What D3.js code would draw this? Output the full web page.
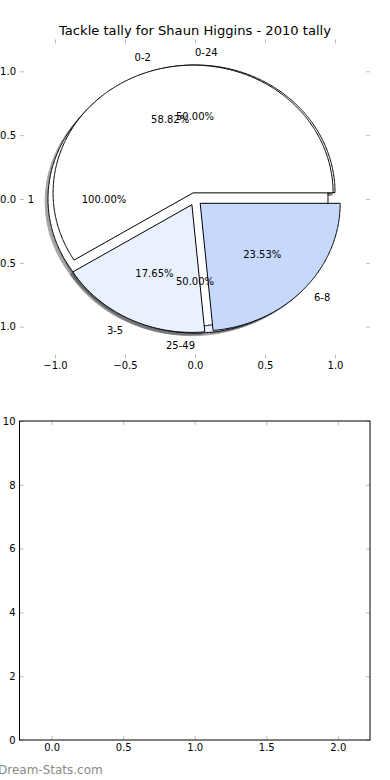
<!DOCTYPE html>
<html>
<head>
<meta charset="utf-8">
<script src="https://cdn.jsdelivr.net/npm/d3@7"></script>
<style>
  body { margin: 0; background: #fff; }
  svg { display: block; font-family: "DejaVu Sans", sans-serif; }
  .tick line { stroke: #bbb; }
</style>
</head>
<body>
<div id="container"></div>
<script>
// datos
const titulo = "Tackle tally for Shaun Higgins - 2010 tally"
const etiquetasA = ["0-2", "3-5", "6-8"]
const valoresA = [10, 3, 4]
const etiquetasB = ["0-24", "25-49"]
const valoresB = [1, 1]
const etiquetasC = ["1"]
const valoresC = [1]
const colores = ["#ffffff", "#eaf1fe", "#c6d9fd"]
const explode = 0.05
const ticksPie = [-1, -0.5, 0, 0.5, 1]
const ticksX = [0, 0.5, 1, 1.5, 2]
const ticksY = [0, 2, 4, 6, 8, 10]

ancho = 390
alto = 780

svg = d3.select("#container")
  .append("svg")
  .attr("width", ancho)
  .attr("height", alto)

// escalas del pie (limites +-1.25 como matplotlib)
px = d3.scaleLinear().domain([-1.25, 1.25]).range([20, 370])
py = d3.scaleLinear().domain([-1.25, 1.25]).range([358.6, 39.4])

svg.append("text")
  .attr("x", px(0)).attr("y", 30)
  .attr("text-anchor", "middle").attr("dominant-baseline", "central")
  .attr("font-size", 13.1)
  .text(titulo)

// ejes del pie, sin marco
gPieAxes = svg.append("g")
gPieAxes.append("g").attr("transform", `translate(0,${py(-1.25)})`)
  .call(d3.axisBottom(px).tickValues(ticksPie).tickSize(-4).tickPadding(3).tickFormat(d3.format(".1f")))
gPieAxes.append("g").attr("transform", `translate(0,${py(1.25)})`)
  .call(d3.axisTop(px).tickValues(ticksPie).tickSize(-4).tickFormat(""))
gPieAxes.append("g").attr("transform", `translate(${px(-1.25)},0)`)
  .call(d3.axisLeft(py).tickValues(ticksPie).tickSize(-4).tickPadding(4).tickFormat(d3.format(".1f")))
gPieAxes.append("g").attr("transform", `translate(${px(1.25)},0)`)
  .call(d3.axisRight(py).tickValues(ticksPie).tickSize(-4).tickFormat(""))
gPieAxes.selectAll(".domain").remove()
gPieAxes.selectAll("text").attr("font-size", 10).attr("fill", "#000").attr("font-family", "DejaVu Sans")

// construir cuñas (angulos al estilo matplotlib: 0 a las 3, antihorario)
function cunas(valores, etiquetas) {
  const arcs = d3.pie().sort(null).startAngle(0).endAngle(2 * Math.PI)(valores)
  const total = d3.sum(valores)
  return arcs.map((a, i) => {
    const mid = (a.startAngle + a.endAngle) / 2
    return {
      t1: a.startAngle, t2: a.endAngle, mid: mid,
      cx: explode * Math.cos(mid), cy: explode * Math.sin(mid),
      color: colores[i % colores.length],
      label: etiquetas[i],
      pct: (100 * valores[i] / total).toFixed(2) + "%"
    }
  })
}

pies = [cunas(valoresB, etiquetasB), cunas(valoresC, etiquetasC), cunas(valoresA, etiquetasA)]

linea = d3.line().x(d => px(d[0])).y(d => py(d[1]))
function pathCuna(w, dx, dy) {
  const n = Math.max(8, Math.ceil((w.t2 - w.t1) / 0.01))
  const pts = []
  const lleno = (w.t2 - w.t1) >= 2 * Math.PI - 1e-9
  if (!lleno) pts.push([w.cx + dx, w.cy + dy])
  for (let k = 0; k <= n; k++) {
    const t = w.t1 + (w.t2 - w.t1) * k / n
    pts.push([w.cx + dx + Math.cos(t), w.cy + dy + Math.sin(t)])
  }
  return linea(pts) + "Z"
}

// sombras primero (zorder menor)
gSombras = svg.append("g")
pies.forEach(p => {
  gSombras.selectAll(null).data(p).enter().append("path")
    .attr("d", w => pathCuna(w, -0.02, -0.02))
    .attr("fill", w => { const c = d3.rgb(w.color); return d3.rgb(c.r * 0.3, c.g * 0.3, c.b * 0.3) })
    .attr("stroke", w => { const c = d3.rgb(w.color); return d3.rgb(c.r * 0.3, c.g * 0.3, c.b * 0.3) })
    .attr("opacity", 0.5)
})

gCunas = svg.append("g")
pies.forEach(p => {
  gCunas.selectAll(null).data(p).enter().append("path")
    .attr("d", w => pathCuna(w, 0, 0))
    .attr("fill", w => w.color)
    .attr("stroke", "#000")
    .attr("stroke-width", 1)
    .attr("stroke-linejoin", "miter")
})

// textos
gTextos = svg.append("g").attr("font-size", 10)
pies.forEach(p => {
  p.forEach(w => {
    const xt = w.cx + 1.1 * Math.cos(w.mid)
    const yt = w.cy + 1.1 * Math.sin(w.mid)
    gTextos.append("text")
      .attr("x", px(xt)).attr("y", py(yt))
      .attr("text-anchor", xt > 0 ? "start" : "end")
      .attr("dominant-baseline", "central")
      .text(w.label)
    gTextos.append("text")
      .attr("x", px(w.cx + 0.6 * Math.cos(w.mid))).attr("y", py(w.cy + 0.6 * Math.sin(w.mid)))
      .attr("text-anchor", "middle")
      .attr("dominant-baseline", "central")
      .text(w.pct)
  })
})

// segundo grafico vacio
x2 = d3.scaleLinear().domain([-0.225, 2.225]).range([19.5, 370])
y2 = d3.scaleLinear().domain([0, 10]).range([740, 421])
g2 = svg.append("g")
g2.append("g").attr("transform", `translate(0,${y2(0)})`)
  .call(d3.axisBottom(x2).tickValues(ticksX).tickSize(-4).tickPadding(4).tickFormat(d3.format(".1f")))
g2.append("g").attr("transform", `translate(0,${y2(10)})`)
  .call(d3.axisTop(x2).tickValues(ticksX).tickSize(-4).tickFormat(""))
g2.append("g").attr("transform", `translate(${x2(-0.225)},0)`)
  .call(d3.axisLeft(y2).tickValues(ticksY).tickSize(-4).tickPadding(4).tickFormat(d3.format("d")))
g2.append("g").attr("transform", `translate(${x2(2.225)},0)`)
  .call(d3.axisRight(y2).tickValues(ticksY).tickSize(-4).tickFormat(""))
g2.selectAll(".domain").remove()
g2.selectAll("text").attr("font-size", 10).attr("fill", "#000").attr("font-family", "DejaVu Sans")
g2.append("rect")
  .attr("x", x2(-0.225)).attr("y", y2(10))
  .attr("width", x2(2.225) - x2(-0.225)).attr("height", y2(0) - y2(10))
  .attr("fill", "none").attr("stroke", "#000")

svg.append("text")
  .attr("x", -2).attr("y", 770)
  .attr("dominant-baseline", "central")
  .attr("font-size", 12).attr("fill", "#8a8a8a")
  .text("Dream-Stats.com")
</script>
</body>
</html>
